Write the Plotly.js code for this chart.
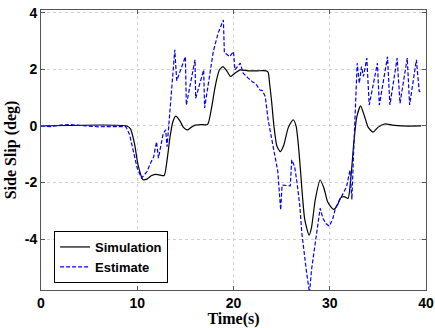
<!DOCTYPE html>
<html><head><meta charset="utf-8">
<script src="https://cdn.plot.ly/plotly-3.0.1.min.js"></script>
<style>html,body{margin:0;padding:0;background:#fff}#c{width:435px;height:328px}</style>
</head><body><div id="c"></div>
<script>
var simT = [0,8.9,9.3,9.7,10.1,10.6,11.0,11.5,12.0,12.4,12.8,13.1,13.4,13.7,14.0,14.4,14.8,15.2,15.6,16.0,16.6,17.3,17.7,18.1,18.5,18.9,19.3,19.7,20.2,20.7,21.5,22.5,23.4,23.6,23.75,23.95,24.2,24.5,24.85,25.2,25.7,26.2,26.5,26.8,27.1,27.4,27.85,28.1,28.5,29.0,29.4,29.8,30.4,30.8,31.1,31.5,31.9,32.2,32.5,32.8,33.2,33.6,34.0,34.5,35.0,35.7,36.5,37.5,39.5];
var simY = [0,0,-0.1,-0.6,-1.4,-1.9,-1.88,-1.75,-1.71,-1.74,-1.75,-1.2,-0.4,0.15,0.35,0.2,-0.05,-0.14,-0.05,0.03,0.05,0.05,0.6,1.4,1.95,2.1,1.95,1.75,1.88,1.98,1.95,1.95,1.95,1.9,1.5,0.9,0.0,-0.7,-0.91,-0.7,-0.05,0.22,0.0,-0.9,-2.2,-3.3,-3.86,-3.6,-2.6,-1.91,-2.2,-2.7,-2.95,-2.8,-2.55,-2.5,-2.56,-1.8,-0.6,0.3,0.71,0.35,-0.05,-0.22,-0.05,0.07,0.03,0.0,0.0];
var estT = [0,1,2,3,4,5,6,7,8,8.8,9.2,9.6,10.0,10.45,10.7,11.0,11.4,11.7,12.0,12.2,12.7,12.95,13.1,13.5,13.9,14.1,14.5,15.0,15.1,16.0,16.07,16.9,17.0,17.5,17.9,18.4,18.95,19.05,19.6,20.0,20.15,20.7,21.0,21.5,22.0,22.3,22.75,23.0,23.3,23.6,24.0,24.3,24.6,24.9,25.05,25.9,26.05,26.35,26.6,26.9,27.1,27.6,27.9,28.1,28.5,29.0,29.3,29.6,29.95,30.3,30.6,31.05,31.2,31.75,32.1,32.3,32.45,32.85,33.07,33.3,33.5,33.85,34.1,34.95,35.15,36.0,36.25,37.0,37.3,38.05,38.3,39.0,39.3,39.5];
var estY = [0,-0.02,0.03,0.05,0.02,0.0,-0.03,-0.02,-0.03,-0.02,-0.3,-0.9,-1.5,-1.84,-1.75,-1.62,-1.3,-1.1,-0.56,-1.14,-0.26,-0.14,-0.73,1.0,2.69,1.6,2.0,2.45,0.74,2.34,0.98,1.98,0.64,1.8,2.63,3.28,3.75,2.6,2.45,2.63,1.98,2.22,1.87,1.7,1.55,1.5,1.27,1.25,1.04,0.21,-0.5,-0.96,-1.6,-2.97,-2.09,-2.12,-1.2,-1.44,-2.0,-2.86,-3.79,-5.2,-5.9,-5.1,-4.04,-2.91,-3.27,-3.45,-3.54,-3.3,-2.9,-2.62,-2.5,-2.15,-1.56,-2.6,-1.2,2.22,1.51,2.1,1.75,2.4,0.74,2.22,0.74,2.45,0.74,2.4,0.8,2.4,0.74,2.34,1.21,1.27];
var xTicks = [0,10,20,30,40];
var yTicks = [-4,-2,0,2,4];

var tickFont = {family:'Liberation Sans, Arial, sans-serif', size:14, color:'#000', weight:'bold'};
var titleFont = {family:'Liberation Serif, Times New Roman, serif', size:16, color:'#000', weight:'bold'};
var axBase = {showline:true, linecolor:'#555', linewidth:1, mirror:'ticks', ticks:'inside', ticklen:4, tickcolor:'#555',
  showgrid:true, gridcolor:'#d0d0d0', griddash:'dot', gridwidth:1, zeroline:false, tickfont:tickFont};

var data = [
  {x:simT, y:simY, type:'scatter', mode:'lines', name:'Simulation', line:{color:'#000', width:1.2, shape:'spline', smoothing:0.6}},
  {x:estT, y:estY, type:'scatter', mode:'lines', name:'Estimate', line:{color:'#0000ff', width:1.2, dash:'4px,2px'}}
];
var layout = {
  width:435, height:328, paper_bgcolor:'#fff', plot_bgcolor:'#fff',
  margin:{l:41, r:9, t:10, b:38},
  showlegend:true,
  legend:{x:0.034, y:0.025, xanchor:'left', yanchor:'bottom', bgcolor:'#fff', bordercolor:'#000', borderwidth:1,
    font:{family:'Liberation Sans, Arial, sans-serif', size:13, color:'#000', weight:'bold'}, itemwidth:30, tracegroupgap:0},
  xaxis:Object.assign({}, axBase, {range:[0,40], tickvals:xTicks, ticktext:xTicks.map(String),
    title:{text:'Time(s)', font:titleFont, standoff:1}}),
  yaxis:Object.assign({}, axBase, {range:[-5.8,4.1], tickvals:yTicks, ticktext:yTicks.map(String),
    title:{text:'Side Slip (deg)', font:titleFont, standoff:4}})
};
Plotly.newPlot('c', data, layout, {displayModeBar:false, staticPlot:true});
</script></body></html>
